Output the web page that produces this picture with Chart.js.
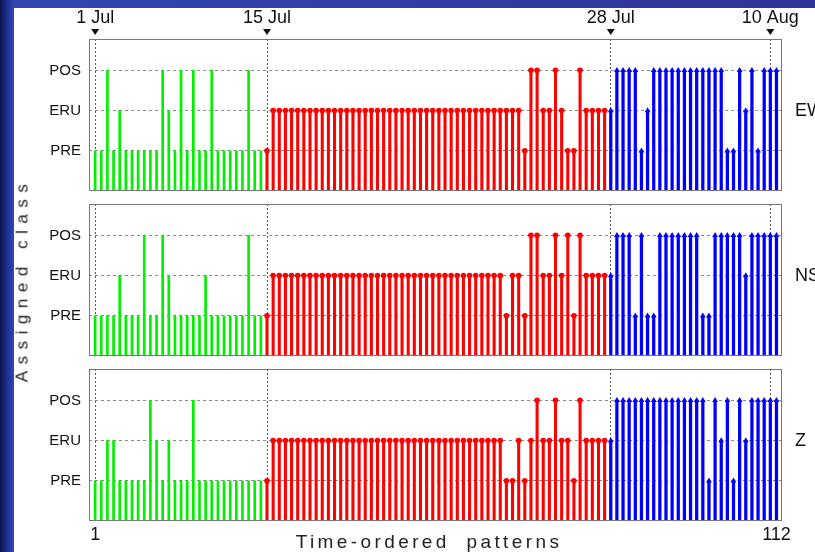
<!DOCTYPE html>
<html>
<head>
<meta charset="utf-8">
<script src="https://cdn.jsdelivr.net/npm/chart.js"></script>
<style>
  html, body { margin: 0; padding: 0; }
  body {
    width: 815px; height: 552px; overflow: hidden; position: relative;
    background: linear-gradient(to right, #0c1250 0px, #2236a0 9px, #3346b4 14px, #2f3594 100%);
    font-family: 'Liberation Sans', Arial, sans-serif;
  }
  #sheet { position: absolute; left: 14px; top: 8px; right: 0; bottom: 0; background: #ffffff; }
  .panel { position: absolute; left: 0; width: 815px; }
  .panel canvas { display: block; }
  #ytitle {
    position: absolute; left: 22px; top: 280px; white-space: nowrap;
    transform: translate(-50%, -50%) rotate(-90deg);
    font-size: 17px; letter-spacing: 6.5px; color: #222; line-height: 17px;
  }
  #xtitle {
    position: absolute; left: 429px; top: 532px; white-space: nowrap;
    transform: translateX(-50%);
    font-size: 19px; letter-spacing: 3.4px; word-spacing: 8px; color: #222; line-height: 19px;
  }
</style>
</head>
<body>
<div id="sheet"></div>
<div class="panel" style="top:0px;height:195px"><canvas id="cEW" width="815" height="195"></canvas></div>
<div class="panel" style="top:195px;height:165px"><canvas id="cNS" width="815" height="165"></canvas></div>
<div class="panel" style="top:360px;height:192px"><canvas id="cZ" width="815" height="192"></canvas></div>
<div id="ytitle">Assigned class</div>
<div id="xtitle">Time-ordered patterns</div>

<script>
// Class codes: 1 = PRE, 2 = ERU, 3 = POS
const classNames = ['PRE', 'ERU', 'POS'];
const classTicks = [1, 2, 3];

// Date markers along the pattern sequence
const dateTicks = [1, 29, 85, 111];
const dateLabels = ['1 Jul', '15 Jul', '28 Jul', '10 Aug'];

// First and last pattern numbers
const endTicks = [1, 112];

const componentNames = ['EW', 'NS', 'Z'];

// Assigned class of each of the 112 time-ordered patterns, per component
const ewClass = [
  1,1,3,1,2,1,1,1,1,1,
  1,3,2,1,3,1,3,1,1,3,
  1,1,1,1,1,3,1,1,1,2,
  2,2,2,2,2,2,2,2,2,2,
  2,2,2,2,2,2,2,2,2,2,
  2,2,2,2,2,2,2,2,2,2,
  2,2,2,2,2,2,2,2,2,2,
  1,3,3,2,2,3,2,1,1,3,
  2,2,2,2,2,3,3,3,3,1,
  2,3,3,3,3,3,3,3,3,3,
  3,3,3,1,1,3,2,3,1,3,
  3,3
];
const nsClass = [
  1,1,1,1,2,1,1,1,3,1,
  1,3,2,1,1,1,1,1,2,1,
  1,1,1,1,1,3,1,1,1,2,
  2,2,2,2,2,2,2,2,2,2,
  2,2,2,2,2,2,2,2,2,2,
  2,2,2,2,2,2,2,2,2,2,
  2,2,2,2,2,2,2,1,2,2,
  1,3,3,2,2,3,2,3,1,3,
  2,2,2,2,2,3,3,3,1,3,
  1,1,3,3,3,3,3,3,3,1,
  1,3,3,3,3,3,2,3,3,3,
  3,3
];
const zClass = [
  1,1,2,2,1,1,1,1,1,3,
  2,1,2,1,1,1,3,1,1,1,
  1,1,1,1,1,1,1,1,1,2,
  2,2,2,2,2,2,2,2,2,2,
  2,2,2,2,2,2,2,2,2,2,
  2,2,2,2,2,2,2,2,2,2,
  2,2,2,2,2,2,2,1,1,2,
  1,2,3,2,2,3,2,2,1,3,
  2,2,2,2,2,3,3,3,3,3,
  3,3,3,3,3,3,3,3,3,3,
  1,3,2,3,1,3,2,3,3,3,
  3,3
];

// ---- styling ----
Chart.defaults.font.family = "'Liberation Sans', Arial, sans-serif";
Chart.defaults.color = '#111';

const X_MIN = 0, X_MAX = 112.9;
const Y_MIN = 0, Y_MAX = 3.78;
const GREEN = '#00f000', RED = '#ff0000', BLUE = '#0000ff';

// phase index of a pattern: before 15 Jul, 15-28 Jul, after 28 Jul
function phaseOf(n) {
  return n < dateTicks[1] ? 0 : (n < dateTicks[2] ? 1 : 2);
}

function splitPhases(classes) {
  const parts = [[], [], []];
  classes.forEach((c, i) => {
    const n = i + 1;
    parts[phaseOf(n)].push({ x: n, y: c });
  });
  return parts;
}

// fixed axis sizes, no extra label padding around the plotting area
function fixWidth(w) {
  return s => { s.width = w; s.paddingTop = 0; s.paddingBottom = 0; s.paddingLeft = 0; s.paddingRight = 0; };
}
function fixHeight(h) {
  return s => { s.height = h; s.paddingTop = 0; s.paddingBottom = 0; s.paddingLeft = 0; s.paddingRight = 0; };
}

// box around each plotting area
const framePlugin = {
  id: 'frame',
  afterDraw(chart) {
    const { ctx, chartArea: a } = chart;
    ctx.save();
    ctx.strokeStyle = '#777777';
    ctx.lineWidth = 1;
    const l = Math.round(a.left) + 0.5, t = Math.round(a.top) + 0.5;
    const r = Math.round(a.right) - 0.5, b = Math.round(a.bottom) - 0.5;
    ctx.strokeRect(l, t, r - l, b - t);
    ctx.restore();
  }
};

// small down-pointing triangles under the date labels
const dateMarkerPlugin = {
  id: 'dateMarkers',
  afterDraw(chart, args, opts) {
    if (!opts || !opts.show) return;
    const { ctx, chartArea: a } = chart;
    const xs = chart.scales.x;
    ctx.save();
    ctx.fillStyle = '#111';
    dateTicks.forEach(v => {
      const px = xs.getPixelForValue(v);
      ctx.beginPath();
      ctx.moveTo(px - 4, a.top - 10);
      ctx.lineTo(px + 4, a.top - 10);
      ctx.lineTo(px, a.top - 4);
      ctx.closePath();
      ctx.fill();
    });
    ctx.restore();
  }
};

function makePanel(canvasId, classes, name, cfg) {
  const [g, r, b] = splitPhases(classes);
  const xTickValues = cfg.showEnds
    ? Array.from(new Set(dateTicks.concat(endTicks))).sort((p, q) => p - q)
    : dateTicks.slice();

  const scales = {
    x: {
      type: 'linear', position: 'bottom', min: X_MIN, max: X_MAX, offset: false,
      afterBuildTicks: s => { s.ticks = xTickValues.map(v => ({ value: v })); },
      grid: {
        offset: false, drawTicks: false, lineWidth: 1,
        color: c => (c.tick && dateTicks.includes(c.tick.value)) ? '#555555' : 'rgba(0,0,0,0)'
      },
      border: { display: false, dash: [2, 2] },
      ticks: {
        display: !!cfg.showEnds, autoSkip: false, maxRotation: 0, padding: 3,
        font: { size: 18 }, color: '#111',
        callback: v => endTicks.includes(v) ? String(v) : ''
      },
      afterFit: fixHeight(cfg.bottomAxis)
    },
    y: {
      type: 'linear', position: 'left', min: Y_MIN, max: Y_MAX,
      afterBuildTicks: s => { s.ticks = classTicks.map(v => ({ value: v })); },
      grid: { drawTicks: false, color: '#8a8a8a', lineWidth: 1 },
      border: { display: false, dash: [3, 3] },
      ticks: {
        padding: 8, font: { size: 15 }, color: '#111',
        callback: v => classNames[v - 1]
      },
      afterFit: fixWidth(89)
    },
    yName: {
      type: 'linear', position: 'right', min: Y_MIN, max: Y_MAX,
      afterBuildTicks: s => { s.ticks = [{ value: 2 }]; },
      grid: { display: false, drawTicks: false },
      border: { display: false },
      ticks: { padding: 13, font: { size: 18 }, color: '#111', callback: () => name },
      afterFit: fixWidth(33)
    }
  };

  if (cfg.dates) {
    scales.xTop = {
      type: 'linear', position: 'top', min: X_MIN, max: X_MAX, offset: false,
      afterBuildTicks: s => { s.ticks = dateTicks.map(v => ({ value: v })); },
      grid: { display: false, drawTicks: false },
      border: { display: false },
      ticks: {
        autoSkip: false, maxRotation: 0, padding: 10, font: { size: 18 }, color: '#111',
        callback: (v, i) => dateLabels[i]
      },
      afterFit: fixHeight(cfg.topAxis)
    };
  }

  return new Chart(document.getElementById(canvasId), {
    type: 'bar',
    data: {
      datasets: [
        { type: 'scatter', data: r, pointStyle: 'circle', pointRadius: 2.8,
          backgroundColor: RED, borderColor: RED, borderWidth: 0, order: 0 },
        { type: 'scatter', data: b, pointStyle: 'triangle', pointRadius: 3.4,
          backgroundColor: BLUE, borderColor: BLUE, borderWidth: 0, order: 0 },
        { type: 'bar', data: g, backgroundColor: GREEN, barThickness: 2, grouped: false, order: 1 },
        { type: 'bar', data: r, backgroundColor: RED, barThickness: 2.4, grouped: false, order: 1 },
        { type: 'bar', data: b, backgroundColor: BLUE, barThickness: 2.6, grouped: false, order: 1 }
      ]
    },
    options: {
      responsive: false,
      devicePixelRatio: 1,
      animation: false,
      events: [],
      layout: { padding: { top: cfg.padTop || 0, left: 0, right: 0, bottom: 0 } },
      plugins: {
        legend: { display: false },
        tooltip: { enabled: false },
        dateMarkers: { show: !!cfg.dates }
      },
      scales
    },
    plugins: [framePlugin, dateMarkerPlugin]
  });
}

makePanel('cEW', ewClass, componentNames[0], { dates: true, topAxis: 39, bottomAxis: 4 });
makePanel('cNS', nsClass, componentNames[1], { padTop: 9, bottomAxis: 4 });
makePanel('cZ', zClass, componentNames[2], { padTop: 9, bottomAxis: 31, showEnds: true });
</script>
</body>
</html>
